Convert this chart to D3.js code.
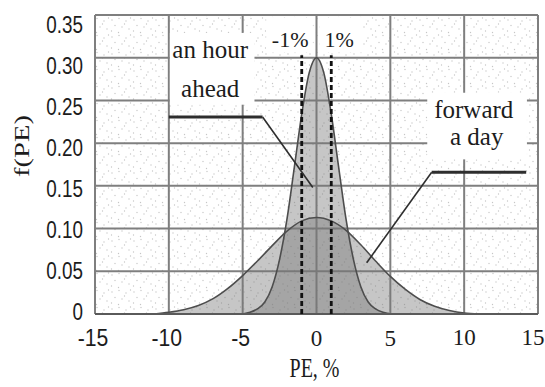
<!DOCTYPE html>
<html>
<head>
<meta charset="utf-8">
<script src="https://cdn.jsdelivr.net/npm/d3@7"></script>
<style>
  html, body { margin: 0; padding: 0; background: #fff; }
  svg { display: block; }
  .serif { font-family: "Liberation Serif", "DejaVu Serif", serif; }
  .sans { font-family: "Liberation Sans", "DejaVu Sans", sans-serif; }
</style>
</head>
<body>
<svg id="chart" width="545" height="387"></svg>
<script>
// Forecast percentage error (PE, %) and its density f(PE)
const peHour = [-5, -4.5, -4, -3.5, -3, -2.5, -2, -1.5, -1, -0.5, 0, 0.5, 1, 1.5, 2, 2.5, 3, 3.5, 4, 4.5, 5];
const densityHour = [0.000, 0.002, 0.006, 0.014, 0.032, 0.064, 0.111, 0.172, 0.234, 0.282, 0.300,
                     0.282, 0.234, 0.172, 0.111, 0.064, 0.032, 0.014, 0.006, 0.002, 0.000];

const peDay = [-11, -10, -9, -8, -7, -6, -5, -4, -3, -2, -1, 0, 1, 2, 3, 4, 5, 6, 7, 8, 9, 10, 11];
const densityDay = [0.000, 0.002, 0.005, 0.010, 0.018, 0.030, 0.045, 0.062, 0.080, 0.097, 0.109, 0.113,
                    0.109, 0.098, 0.081, 0.062, 0.044, 0.029, 0.017, 0.009, 0.004, 0.001, 0.000];

const xTicks = [-15, -10, -5, 0, 5, 10, 15];
const yTicks = [0, 0.05, 0.10, 0.15, 0.20, 0.25, 0.30, 0.35];
const yTickLabels = ["0", "0.05", "0.10", "0.15", "0.20", "0.25", "0.30", "0.35"];
const bandEdges = [-1, 1];
const bandLabels = ["-1%", "1%"];

const svg = d3.select("#chart");
const W = 545, H = 387;
const m = { left: 95, right: 7, top: 15, bottom: 73 };

const x = d3.scaleLinear().domain([-15, 15]).range([m.left, W - m.right]);
const y = d3.scaleLinear().domain([0, 0.35]).range([H - m.bottom, m.top]);
// tick-label centres sit on a slightly tighter vertical spread than the grid
const yLab = d3.scaleLinear().domain([0, 0.35]).range([311, 24]);

const ink = "#1c1c1c";

// stipple texture of the plotting field
const defs = svg.append("defs");
const pat = defs.append("pattern")
  .attr("id", "stipple").attr("patternUnits", "userSpaceOnUse")
  .attr("width", 22).attr("height", 17);
[[2, 3], [9, 1.5], [16, 4], [5, 8.5], [12, 10], [19, 12], [1.5, 14], [8.5, 15.5], [14.5, 7], [20.5, 1]]
  .forEach(p => pat.append("circle").attr("cx", p[0]).attr("cy", p[1]).attr("r", 0.7).attr("fill", "#c6c6c6"));

const plotW = x(15) - x(-15), plotH = y(0) - y(0.35);
svg.append("rect").attr("x", x(-15)).attr("y", y(0.35)).attr("width", plotW).attr("height", plotH)
  .attr("fill", "url(#stipple)");

// grid
const grid = svg.append("g").attr("stroke", "#7f7f7f").attr("stroke-width", 2);
grid.selectAll(".gx").data(xTicks).join("line")
  .attr("x1", d => x(d)).attr("x2", d => x(d)).attr("y1", y(0)).attr("y2", y(0.35));
grid.selectAll(".gy").data(yTicks).join("line")
  .attr("x1", x(-15)).attr("x2", x(15)).attr("y1", d => y(d)).attr("y2", d => y(d));

// white label panels
const panels = [
  { x0: -9.93, x1: -4.2, y0: 0.245, y1: 0.329 },
  { x0: -3.4, x1: -0.25, y0: 0.306, y1: 0.347 },
  { x0: 0.2, x1: 3.1, y0: 0.306, y1: 0.347 },
  { x0: 7.5, x1: 14.25, y0: 0.181, y1: 0.259 }
];
svg.append("g").selectAll("rect").data(panels).join("rect")
  .attr("x", d => x(d.x0)).attr("y", d => y(d.y1))
  .attr("width", d => x(d.x1) - x(d.x0)).attr("height", d => y(d.y0) - y(d.y1))
  .attr("fill", "#fff");

// density curves
const area = (xs) => d3.area().x((d, i) => x(xs[i])).y0(y(0)).y1(d => y(d)).curve(d3.curveMonotoneX);
const line = (xs) => d3.line().x((d, i) => x(xs[i])).y(d => y(d)).curve(d3.curveMonotoneX);

svg.append("path").datum(densityDay).attr("d", area(peDay)).attr("fill", "#777").attr("fill-opacity", 0.42);
svg.append("path").datum(densityHour).attr("d", area(peHour)).attr("fill", "#777").attr("fill-opacity", 0.42);
svg.append("path").datum(densityDay).attr("d", line(peDay)).attr("fill", "none")
  .attr("stroke", "#4d4d4d").attr("stroke-width", 1.6);
svg.append("path").datum(densityHour).attr("d", line(peHour)).attr("fill", "none")
  .attr("stroke", "#4d4d4d").attr("stroke-width", 1.6);

// baseline
svg.append("line").attr("x1", x(-15)).attr("x2", x(15)).attr("y1", y(0)).attr("y2", y(0))
  .attr("stroke", "#5a5a5a").attr("stroke-width", 2.2);

// ±1% band
svg.append("g").selectAll("line").data(bandEdges).join("line")
  .attr("x1", d => x(d)).attr("x2", d => x(d)).attr("y1", y(0)).attr("y2", y(0.303))
  .attr("stroke", "#111").attr("stroke-width", 2.8).attr("stroke-dasharray", "5,3");

svg.append("g").selectAll("text").data(bandLabels).join("text")
  .attr("class", "serif")
  .attr("x", (d, i) => x(0) + (i === 0 ? -8 : 8))
  .attr("y", y(0.313))
  .attr("text-anchor", (d, i) => i === 0 ? "end" : "start")
  .attr("font-size", 22).attr("fill", ink)
  .text(d => d);

// leader lines
const leader = d3.line().x(d => x(d[0])).y(d => y(d[1]));
const hourShelf = [[-10, 0.2305], [-3.65, 0.2305]];
const hourPointer = [[-3.65, 0.2305], [-0.25, 0.148]];
const dayShelf = [[7.8, 0.166], [14.2, 0.166]];
const dayPointer = [[7.8, 0.166], [3.4, 0.060]];
[hourShelf, dayShelf].forEach(p => svg.append("path").attr("d", leader(p))
  .attr("fill", "none").attr("stroke", "#2e2e2e").attr("stroke-width", 3));
[hourPointer, dayPointer].forEach(p => svg.append("path").attr("d", leader(p))
  .attr("fill", "none").attr("stroke", "#2e2e2e").attr("stroke-width", 1.6));

// curve labels
const notes = [
  { t: "an hour", px: -7.2, py: 0.300 },
  { t: "ahead", px: -7.2, py: 0.254 },
  { t: "forward", px: 10.65, py: 0.229 },
  { t: "a day", px: 10.85, py: 0.198 }
];
svg.append("g").selectAll("text").data(notes).join("text")
  .attr("class", "serif")
  .attr("x", d => x(d.px)).attr("y", d => y(d.py))
  .attr("text-anchor", "middle")
  .attr("font-size", 25).attr("fill", ink)
  .text(d => d.t);

// y tick labels (condensed sans)
svg.append("g").selectAll("text").data(yTicks).join("text")
  .attr("class", "sans")
  .attr("transform", d => `translate(83,${yLab(d)}) scale(0.82,1.08)`)
  .attr("dy", "0.36em")
  .attr("text-anchor", "end")
  .attr("font-size", 23).attr("fill", ink)
  .text((d, i) => yTickLabels[i]);

// x tick labels
svg.append("g").selectAll("text").data(xTicks).join("text")
  .attr("class", d => d < 0 ? "sans" : "serif")
  .attr("transform", d => d < 0
    ? `translate(${x(d) - 2},346) scale(0.92,1.04)`
    : `translate(${Math.min(x(d), 533)},${d >= 10 ? 345 : 346})`)
  .attr("text-anchor", "middle")
  .attr("font-size", 23).attr("fill", ink)
  .text(d => d);

// axis titles
svg.append("text")
  .attr("class", "serif")
  .attr("transform", `translate(${x(0) - 2},377) scale(1,1.35)`)
  .attr("text-anchor", "middle")
  .attr("font-size", 20).attr("fill", ink)
  .text("PE, %");

svg.append("text")
  .attr("class", "serif")
  .attr("transform", "translate(29,146) rotate(-90) scale(1.36,1)")
  .attr("text-anchor", "middle")
  .attr("font-size", 21).attr("fill", ink)
  .text("f(PE)");
</script>
</body>
</html>
